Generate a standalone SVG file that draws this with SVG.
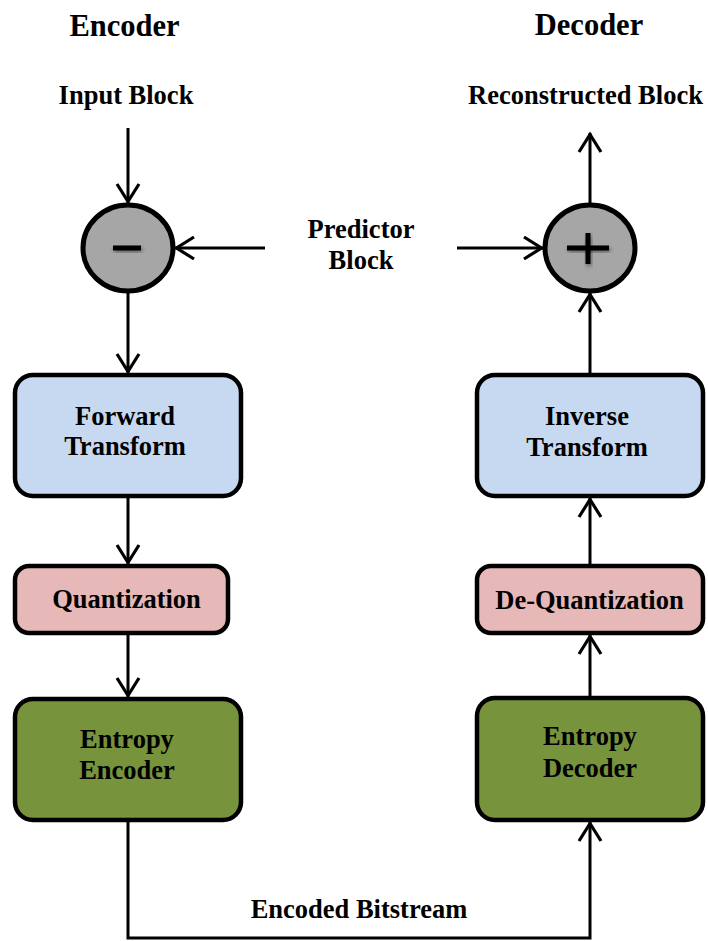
<svg xmlns="http://www.w3.org/2000/svg" width="708" height="941" viewBox="0 0 708 941">
  <defs>
    <style>
      text { font-family: "Liberation Serif", "Times New Roman", serif; font-weight: bold; fill: #000; text-anchor: middle; }
      .title { font-size: 30.5px; }
      .lbl { font-size: 26.5px; }
      .box { stroke: #000; stroke-width: 4.5; }
      .blue { fill: #c6d9f0; }
      .pink { fill: #e6b8b7; }
      .green { fill: #77933c; }
      .sum { fill: #a6a6a6; stroke: #000; stroke-width: 5; }
      .wire { fill: none; stroke: #000; stroke-width: 3; marker-end: url(#arrow); }
      .sign { fill: #000; filter: url(#soft); }
    </style>
    <marker id="arrow" markerUnits="userSpaceOnUse" markerWidth="30" markerHeight="30" refX="0" refY="0" orient="auto" overflow="visible">
      <path d="M-19,-11 L-1.5,0 L-19,11" fill="none" stroke="#000" stroke-width="3.2"/>
    </marker>
    <filter id="soft" x="-50%" y="-50%" width="200%" height="200%">
      <feGaussianBlur in="SourceAlpha" stdDeviation="2"/>
      <feOffset dx="1" dy="2" result="sh"/>
      <feComponentTransfer><feFuncA type="linear" slope="0.45"/></feComponentTransfer>
      <feMerge><feMergeNode/><feMergeNode in="SourceGraphic"/></feMerge>
    </filter>
  </defs>

  <rect width="708" height="941" fill="#fff"/>

  <!-- headings and free labels -->
  <g id="labels">
    <text class="title" x="124.5" y="35.5">Encoder</text>
    <text class="title" x="589" y="34.5">Decoder</text>
    <text class="lbl" x="126" y="104">Input Block</text>
    <text class="lbl" x="585.5" y="104">Reconstructed Block</text>
    <text class="lbl" x="361" y="238">Predictor</text>
    <text class="lbl" x="361" y="269">Block</text>
    <text class="lbl" x="359" y="918">Encoded Bitstream</text>
  </g>

  <!-- connectors -->
  <g id="connectors">
    <line class="wire" x1="128" y1="128" x2="128" y2="203"/>
    <line class="wire" x1="265" y1="248" x2="175" y2="248"/>
    <line class="wire" x1="128" y1="293" x2="128" y2="373"/>
    <line class="wire" x1="128" y1="498" x2="128" y2="564"/>
    <line class="wire" x1="128" y1="635" x2="128" y2="697"/>
    <path class="wire" d="M128,822 V938 H590 V822"/>
    <line class="wire" x1="590" y1="696" x2="590" y2="635"/>
    <line class="wire" x1="590" y1="564" x2="590" y2="498"/>
    <line class="wire" x1="590" y1="373" x2="590" y2="293"/>
    <line class="wire" x1="590" y1="203" x2="590" y2="133"/>
    <line class="wire" x1="457" y1="248" x2="543" y2="248"/>
  </g>

  <!-- encoder side -->
  <g id="subtract">
    <ellipse class="sum" cx="128" cy="248" rx="45" ry="43"/>
    <rect class="sign" x="113" y="245.5" width="28" height="5"/>
  </g>
  <g id="forward-transform">
    <rect class="box blue" x="15" y="375" width="226" height="121" rx="18"/>
    <text class="lbl" x="125" y="425">Forward</text>
    <text class="lbl" x="125" y="455">Transform</text>
  </g>
  <g id="quantization">
    <rect class="box pink" x="15" y="566" width="213" height="67" rx="14"/>
    <text class="lbl" x="126.5" y="608">Quantization</text>
  </g>
  <g id="entropy-encoder">
    <rect class="box green" x="15" y="699" width="226" height="121" rx="18"/>
    <text class="lbl" x="127" y="748">Entropy</text>
    <text class="lbl" x="127" y="779">Encoder</text>
  </g>

  <!-- decoder side -->
  <g id="add">
    <ellipse class="sum" cx="590" cy="248" rx="45" ry="43"/>
    <rect class="sign" x="567" y="245.5" width="42" height="5"/>
    <rect class="sign" x="585.5" y="233" width="5" height="31"/>
  </g>
  <g id="inverse-transform">
    <rect class="box blue" x="477" y="375" width="226" height="121" rx="18"/>
    <text class="lbl" x="587" y="425">Inverse</text>
    <text class="lbl" x="587" y="456">Transform</text>
  </g>
  <g id="de-quantization">
    <rect class="box pink" x="477" y="566" width="226" height="67" rx="14"/>
    <text class="lbl" x="589.5" y="609">De-Quantization</text>
  </g>
  <g id="entropy-decoder">
    <rect class="box green" x="477" y="698" width="226" height="122" rx="18"/>
    <text class="lbl" x="590" y="745">Entropy</text>
    <text class="lbl" x="590" y="777">Decoder</text>
  </g>
</svg>
